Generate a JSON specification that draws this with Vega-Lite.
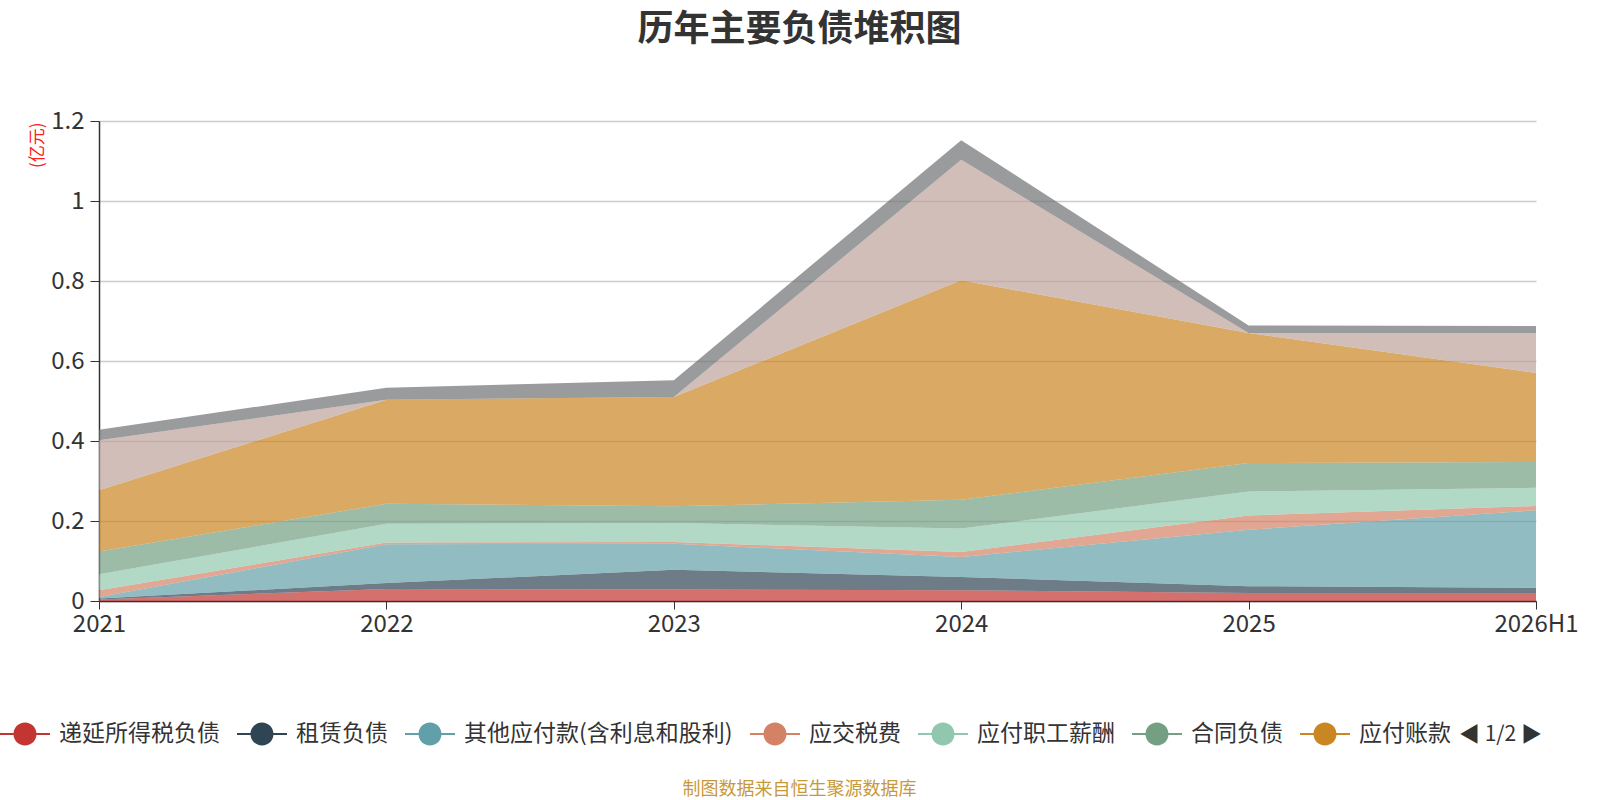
{
  "$schema": "https://vega.github.io/schema/vega-lite/v6.json",
  "width": 1437,
  "height": 480,
  "autosize": {"type": "none"},
  "padding": {"left": 99, "top": 121, "right": 64, "bottom": 199},
  "background": "white",
  "config": {"view": {"stroke": null}},
  "title": {
    "text": "历年主要负债堆积图",
    "font": "Noto Sans CJK SC",
    "fontSize": 36,
    "fontWeight": "bold",
    "color": "#333333",
    "anchor": "middle",
    "dx": -18,
    "offset": 60
  },
  "data": {
    "values": [
      {"year": "2021", "name": "递延所得税负债", "value": 0.004},
      {"year": "2022", "name": "递延所得税负债", "value": 0.030},
      {"year": "2023", "name": "递延所得税负债", "value": 0.029},
      {"year": "2024", "name": "递延所得税负债", "value": 0.027},
      {"year": "2025", "name": "递延所得税负债", "value": 0.020},
      {"year": "2026H1", "name": "递延所得税负债", "value": 0.020},
      {"year": "2021", "name": "租赁负债", "value": 0.002},
      {"year": "2022", "name": "租赁负债", "value": 0.015},
      {"year": "2023", "name": "租赁负债", "value": 0.049},
      {"year": "2024", "name": "租赁负债", "value": 0.033},
      {"year": "2025", "name": "租赁负债", "value": 0.017},
      {"year": "2026H1", "name": "租赁负债", "value": 0.013},
      {"year": "2021", "name": "其他应付款(含利息和股利)", "value": 0.004},
      {"year": "2022", "name": "其他应付款(含利息和股利)", "value": 0.097},
      {"year": "2023", "name": "其他应付款(含利息和股利)", "value": 0.065},
      {"year": "2024", "name": "其他应付款(含利息和股利)", "value": 0.050},
      {"year": "2025", "name": "其他应付款(含利息和股利)", "value": 0.141},
      {"year": "2026H1", "name": "其他应付款(含利息和股利)", "value": 0.194},
      {"year": "2021", "name": "应交税费", "value": 0.017},
      {"year": "2022", "name": "应交税费", "value": 0.004},
      {"year": "2023", "name": "应交税费", "value": 0.0045},
      {"year": "2024", "name": "应交税费", "value": 0.0125},
      {"year": "2025", "name": "应交税费", "value": 0.036},
      {"year": "2026H1", "name": "应交税费", "value": 0.0105},
      {"year": "2021", "name": "应付职工薪酬", "value": 0.040},
      {"year": "2022", "name": "应付职工薪酬", "value": 0.047},
      {"year": "2023", "name": "应付职工薪酬", "value": 0.0475},
      {"year": "2024", "name": "应付职工薪酬", "value": 0.0585},
      {"year": "2025", "name": "应付职工薪酬", "value": 0.060},
      {"year": "2026H1", "name": "应付职工薪酬", "value": 0.0455},
      {"year": "2021", "name": "合同负债", "value": 0.057},
      {"year": "2022", "name": "合同负债", "value": 0.050},
      {"year": "2023", "name": "合同负债", "value": 0.042},
      {"year": "2024", "name": "合同负债", "value": 0.072},
      {"year": "2025", "name": "合同负债", "value": 0.071},
      {"year": "2026H1", "name": "合同负债", "value": 0.0645},
      {"year": "2021", "name": "应付账款", "value": 0.153},
      {"year": "2022", "name": "应付账款", "value": 0.260},
      {"year": "2023", "name": "应付账款", "value": 0.273},
      {"year": "2024", "name": "应付账款", "value": 0.549},
      {"year": "2025", "name": "应付账款", "value": 0.325},
      {"year": "2026H1", "name": "应付账款", "value": 0.2225},
      {"year": "2021", "name": "应付票据", "value": 0.125},
      {"year": "2022", "name": "应付票据", "value": 0.0},
      {"year": "2023", "name": "应付票据", "value": 0.0},
      {"year": "2024", "name": "应付票据", "value": 0.301},
      {"year": "2025", "name": "应付票据", "value": 0.0},
      {"year": "2026H1", "name": "应付票据", "value": 0.100},
      {"year": "2021", "name": "短期借款", "value": 0.026},
      {"year": "2022", "name": "短期借款", "value": 0.030},
      {"year": "2023", "name": "短期借款", "value": 0.042},
      {"year": "2024", "name": "短期借款", "value": 0.049},
      {"year": "2025", "name": "短期借款", "value": 0.019},
      {"year": "2026H1", "name": "短期借款", "value": 0.0175}
    ]
  },
  "transform": [
    {"calculate": "indexof(['递延所得税负债', '租赁负债', '其他应付款(含利息和股利)', '应交税费', '应付职工薪酬', '合同负债', '应付账款', '应付票据', '短期借款'], datum.name)", "as": "stackOrder"}
  ],
  "mark": {"type": "area", "opacity": 0.7, "line": false},
  "encoding": {
    "x": {
      "field": "year",
      "type": "nominal",
      "sort": null,
      "scale": {"type": "point", "padding": 0},
      "axis": {
        "labelAngle": 0,
        "labelFont": "Noto Sans CJK SC",
        "labelFontSize": 24,
        "labelColor": "#333333",
        "labelPadding": 3,
        "tickSize": 8,
        "tickColor": "#333333",
        "domainColor": "#333333",
        "domainWidth": 1.5,
        "grid": false,
        "title": "制图数据来自恒生聚源数据库",
        "titleFont": "Noto Sans CJK SC",
        "titleFontSize": 18,
        "titleFontWeight": "normal",
        "titleColor": "#c8993a",
        "titleX": 700,
        "titleY": 188,
        "titleAlign": "center",
        "titleBaseline": "middle"
      }
    },
    "y": {
      "field": "value",
      "type": "quantitative",
      "stack": "zero",
      "scale": {"domain": [0, 1.2], "nice": false},
      "axis": {
        "values": [0, 0.2, 0.4, 0.6, 0.8, 1, 1.2],
        "format": "~g",
        "labelFont": "Noto Sans CJK SC",
        "labelFontSize": 24,
        "labelColor": "#333333",
        "labelPadding": 6,
        "tickSize": 9,
        "tickColor": "#333333",
        "domainColor": "#333333",
        "domainWidth": 1.5,
        "gridColor": "#cccccc",
        "gridWidth": 1.5,
        "title": "(亿元)",
        "titleFont": "Noto Sans CJK SC",
        "titleFontSize": 17,
        "titleFontWeight": "normal",
        "titleColor": "#ff2020",
        "titleAngle": -90,
        "titleX": -62,
        "titleY": 1,
        "titleAlign": "right",
        "titleBaseline": "middle"
      }
    },
    "order": {"field": "stackOrder", "type": "quantitative"},
    "color": {
      "field": "name",
      "type": "nominal",
      "sort": ["递延所得税负债", "租赁负债", "其他应付款(含利息和股利)", "应交税费", "应付职工薪酬", "合同负债", "应付账款", "应付票据", "短期借款"],
      "scale": {
        "domain": ["递延所得税负债", "租赁负债", "其他应付款(含利息和股利)", "应交税费", "应付职工薪酬", "合同负债", "应付账款", "应付票据", "短期借款"],
        "range": ["#c23531", "#2f4554", "#61a0a8", "#d48265", "#91c7ae", "#749f83", "#ca8622", "#bda29a", "#6e7074"]
      },
      "legend": {
        "orient": "none",
        "legendX": -99,
        "legendY": 588,
        "direction": "horizontal",
        "columns": 7,
        "values": ["递延所得税负债", "租赁负债", "其他应付款(含利息和股利)", "应交税费", "应付职工薪酬", "合同负债", "应付账款"],
        "symbolType": "M-1,-0.04L1,-0.04L1,0.04L-1,0.04Z M0.46,0A0.46,0.46,0,1,1,-0.46,0A0.46,0.46,0,1,1,0.46,0Z",
        "symbolSize": 2500,
        "symbolOpacity": 1,
        "symbolStrokeWidth": 0,
        "labelFont": "Noto Sans CJK SC",
        "labelFontSize": 23,
        "labelColor": "#333333",
        "labelOffset": 9,
        "labelLimit": 400,
        "columnPadding": 17,
        "title": "◀ 1/2 ▶",
        "titleOrient": "right",
        "titleFont": "Noto Sans CJK SC",
        "titleFontSize": 21,
        "titleFontWeight": "normal",
        "titleColor": "#333333",
        "titlePadding": 8,
        "titleBaseline": "line-top",
        "titleLineHeight": 14
      }
    }
  }
}
